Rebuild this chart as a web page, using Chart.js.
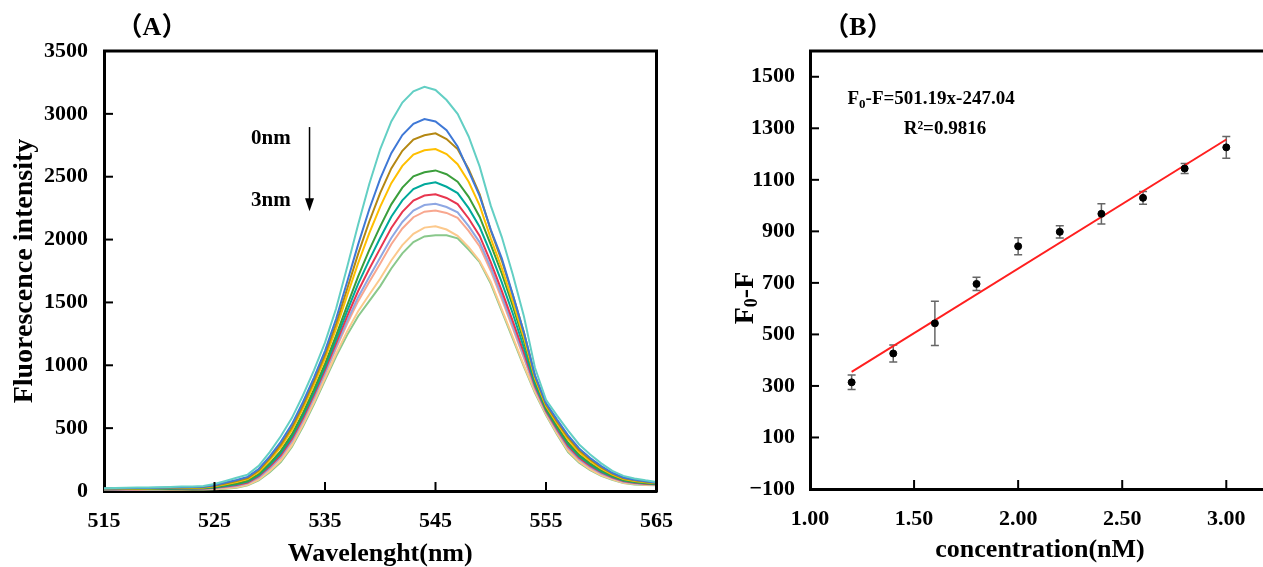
<!DOCTYPE html>
<html><head><meta charset="utf-8">
<script src="https://cdn.jsdelivr.net/npm/chart.js@4.4.0/dist/chart.umd.min.js"></script>
<style>
html,body{margin:0;padding:0;background:#fff;overflow:hidden;width:1263px;height:567px;position:relative;}
#a{position:absolute;left:0;top:0;}
#b{position:absolute;left:700px;top:0;}
</style></head><body>
<canvas id="a" width="690" height="567"></canvas>
<canvas id="b" width="575" height="567"></canvas>
<script>
// ---------- Panel A data ----------
const wavelengths = [515,516,517,518,519,520,521,522,523,524,525,526,527,528,529,530,531,532,533,534,535,536,537,538,539,540,541,542,543,544,545,546,547,548,549,550,551,552,553,554,555,556,557,558,559,560,561,562,563,564,565];
const turquoise = [22,24,25,27,28,30,32,35,36,40, 55,80,105,130,200,310,435,580,760,960, 1180,1450,1780,2120,2440,2720,2940,3090,3180,3215, 3190,3110,3000,2820,2580,2270,2020,1720,1390,980, 726,600,480,370,290,220,160,120,100,85,72];
const blue = [19,20,21,23,24,26,27,30,31,34, 46,67,88,112,175,275,391,530,706,902, 1115,1368,1663,1962,2239,2485,2687,2831,2921,2958, 2940,2870,2740,2545,2345,2080,1850,1560,1260,920, 700,568,443,339,263,198,145,108,90,77,66];
const brown = [18,19,20,21,22,24,25,27,28,31, 42,60,79,103,163,259,369,506,680,874, 1084,1328,1607,1886,2142,2371,2566,2706,2796,2830, 2845,2800,2720,2560,2360,2072,1831,1557,1262,916, 687,552,426,324,250,188,138,102,85,73,64];
const gold = [16,17,18,19,20,22,23,25,26,28, 38,54,71,94,152,243,349,483,655,847, 1054,1290,1553,1813,2049,2262,2449,2586,2676,2710, 2720,2680,2600,2460,2270,2010,1772,1506,1222,896, 675,537,409,309,238,178,131,96,80,70,61];
const green = [14,15,16,17,18,19,20,21,22,24, 32,45,60,82,135,220,319,450,619,808, 1011,1236,1475,1708,1916,2105,2280,2413,2503,2535, 2550,2520,2460,2340,2180,1960,1730,1470,1190,880, 658,515,384,288,220,164,121,88,73,64,57];
const teal = [13,14,15,15,16,17,18,19,20,22, 28,40,53,75,126,206,302,431,598,785, 986,1204,1430,1647,1837,2014,2182,2312,2402,2440, 2455,2420,2370,2250,2100,1890,1660,1410,1140,850, 648,503,370,276,209,155,115,83,69,61,55];
const red = [12,12,13,14,15,16,17,18,19,20, 25,35,47,68,117,194,286,413,579,764, 963,1175,1389,1591,1766,1930,2092,2220,2310,2350, 2360,2331,2282,2168,2029,1821,1592,1350,1100,835, 638,491,357,265,199,148,109,79,65,58,53];
const periwinkle = [11,11,12,13,14,14,15,16,17,18, 23,31,42,63,109,183,273,398,562,746, 942,1149,1352,1542,1703,1857,2013,2140,2230,2275, 2285,2259,2216,2107,1978,1779,1553,1316,1073,822, 630,481,345,255,191,141,105,75,62,56,51];
const salmon = [10,11,12,12,13,13,14,15,16,17, 21,28,38,59,104,176,264,388,551,735, 930,1133,1329,1510,1663,1810,1963,2088,2178,2222, 2232,2212,2173,2069,1945,1752,1527,1294,1056,813, 625,475,338,249,186,137,102,72,60,54,50];
const lightOrange = [9,9,10,10,11,11,12,12,13,14, 16,21,29,50,91,159,241,363,524,705, 897,1091,1270,1430,1561,1690,1834,1956,2046,2095, 2105,2080,2030,1940,1830,1665,1445,1225,1000,791, 612,458,319,233,172,125,94,66,55,50,47];
const lightGreen = [8,8,9,9,10,10,11,11,12,12, 14,18,25,45,85,150,230,350,510,690, 880,1070,1240,1390,1510,1630,1770,1890,1980,2025, 2035,2035,2010,1920,1820,1650,1430,1210,990,780, 605,450,310,225,165,120,90,63,52,48,46];
const xTicksA = [515,525,535,545,555,565];
const yTicksA = [0,500,1000,1500,2000,2500,3000,3500];

// ---------- Panel B data ----------
const concentration = [1.2,1.4,1.6,1.8,2.0,2.2,2.4,2.6,2.8,3.0];
const f0MinusF = [314,426,543,696,842,898,968,1030,1144,1226];
const errorBars = [28,33,86,26,33,24,39,25,19,42];
const fitX = [1.2,3.0];
const fitY = [354.4,1256.5];
const xTicksB = [1.0,1.5,2.0,2.5,3.0];
const yTicksB = [-100,100,300,500,700,900,1100,1300,1500];

// ---------- styles ----------
const SERIF = "'Liberation Serif','Times New Roman','Noto Sans CJK SC',serif";
const bold = sz => `bold ${sz}px ${SERIF}`;
const seriesA = [
  {v: turquoise, c: '#63cfc4'},
  {v: blue, c: '#3f78d6'},
  {v: brown, c: '#b48712'},
  {v: gold, c: '#ffbf00'},
  {v: green, c: '#3b9e3b'},
  {v: teal, c: '#00a99b'},
  {v: red, c: '#e8364f'},
  {v: periwinkle, c: '#8ea7e3'},
  {v: salmon, c: '#f8a78f'},
  {v: lightOrange, c: '#fcc98c'},
  {v: lightGreen, c: '#89c88b'}
];

const frameTicks = {
  id: 'frameTicks',
  afterDraw(chart) {
    const {ctx, chartArea: a} = chart;
    const x = chart.scales.x, y = chart.scales.y;
    ctx.save();
    ctx.strokeStyle = '#000';
    ctx.lineWidth = 3;
    ctx.beginPath();
    ctx.moveTo(a.left - 1, a.top);
    ctx.lineTo(a.right, a.top);
    ctx.lineTo(a.right, a.bottom + 1.5);
    ctx.stroke();
    ctx.lineWidth = 2;
    x.ticks.forEach(t => {
      const px = x.getPixelForValue(t.value);
      if (px > a.left + 3 && px < a.right - 3) {
        ctx.beginPath(); ctx.moveTo(px, a.bottom); ctx.lineTo(px, a.bottom - 9); ctx.stroke();
      }
    });
    y.ticks.forEach(t => {
      const py = y.getPixelForValue(t.value);
      if (py > a.top + 3 && py < a.bottom - 3) {
        ctx.beginPath(); ctx.moveTo(a.left, py); ctx.lineTo(a.left + 9, py); ctx.stroke();
      }
    });
    ctx.restore();
  }
};

const annotA = {
  id: 'annotA',
  afterDraw(chart) {
    const {ctx} = chart;
    const x = chart.scales.x, y = chart.scales.y;
    ctx.save();
    ctx.fillStyle = '#000';
    ctx.font = bold(26);
    ctx.textAlign = 'center'; ctx.textBaseline = 'middle';
    ctx.fillText('（A）', 152, 28);
    ctx.font = bold(21);
    ctx.textAlign = 'left';
    ctx.fillText('0nm', x.getPixelForValue(528.3), y.getPixelForValue(2805));
    ctx.fillText('3nm', x.getPixelForValue(528.3), y.getPixelForValue(2312));
    const ax = x.getPixelForValue(533.6);
    const ay1 = y.getPixelForValue(2895), ay2 = y.getPixelForValue(2225);
    ctx.strokeStyle = '#000'; ctx.lineWidth = 1.5;
    ctx.beginPath(); ctx.moveTo(ax, ay1); ctx.lineTo(ax, ay2 - 10); ctx.stroke();
    ctx.beginPath(); ctx.moveTo(ax - 4.5, ay2 - 13); ctx.lineTo(ax + 4.5, ay2 - 13); ctx.lineTo(ax, ay2); ctx.closePath(); ctx.fill();
    ctx.restore();
  }
};

const errBarsB = {
  id: 'errBarsB',
  beforeDatasetsDraw(chart) {
    const {ctx} = chart;
    const x = chart.scales.x, y = chart.scales.y;
    ctx.save();
    ctx.strokeStyle = '#666'; ctx.lineWidth = 1.5;
    concentration.forEach((c, i) => {
      const px = x.getPixelForValue(c);
      const top = y.getPixelForValue(f0MinusF[i] + errorBars[i]);
      const bot = y.getPixelForValue(f0MinusF[i] - errorBars[i]);
      ctx.beginPath();
      ctx.moveTo(px, top); ctx.lineTo(px, bot);
      ctx.moveTo(px - 4, top); ctx.lineTo(px + 4, top);
      ctx.moveTo(px - 4, bot); ctx.lineTo(px + 4, bot);
      ctx.stroke();
    });
    ctx.restore();
  }
};

const annotB = {
  id: 'annotB',
  afterDraw(chart) {
    const {ctx} = chart;
    const x = chart.scales.x, y = chart.scales.y;
    ctx.save();
    ctx.fillStyle = '#000';
    ctx.font = bold(26);
    ctx.textAlign = 'center';
    ctx.textBaseline = 'middle';
    ctx.fillText('（B）', 158, 28);
    ctx.textBaseline = 'alphabetic';
    ctx.textAlign = 'left';
    // equation
    let ex = x.getPixelForValue(1.18), ey = y.getPixelForValue(1421) + 7;
    ctx.font = bold(19);
    ctx.fillText('F', ex, ey); ex += ctx.measureText('F').width;
    ctx.font = bold(13);
    ctx.fillText('0', ex, ey + 4); ex += ctx.measureText('0').width;
    ctx.font = bold(19);
    ctx.fillText('-F=501.19x-247.04', ex, ey);
    ctx.fillText('R²=0.9816', x.getPixelForValue(1.45), y.getPixelForValue(1305) + 7);
    // y-axis title F0-F (rotated)
    ctx.translate(46, 298);
    ctx.rotate(-Math.PI / 2);
    ctx.font = bold(28);
    const w1 = ctx.measureText('F').width;
    ctx.font = bold(18);
    const w2 = ctx.measureText('0').width;
    ctx.font = bold(28);
    const w3 = ctx.measureText('-F').width;
    let tx = -(w1 + w2 + w3) / 2;
    ctx.textBaseline = 'middle';
    ctx.fillText('F', tx, 0); tx += w1;
    ctx.font = bold(18);
    ctx.fillText('0', tx, 6); tx += w2;
    ctx.font = bold(28);
    ctx.fillText('-F', tx, 0);
    ctx.restore();
  }
};

const tickFont = {family: SERIF, size: 22, weight: 'bold'};
const titleFont = {family: SERIF, size: 26, weight: 'bold', lineHeight: 1};
const yTitleFont = {family: SERIF, size: 28, weight: 'bold', lineHeight: 1};

new Chart(document.getElementById('a'), {
  type: 'line',
  data: {
    datasets: seriesA.map(s => ({
      data: wavelengths.map((w, i) => ({x: w, y: s.v[i]})),
      borderColor: s.c, borderWidth: 2, pointRadius: 0, fill: false, tension: 0
    }))
  },
  options: {
    responsive: false, animation: false, devicePixelRatio: 1,
    layout: {padding: {top: 51, right: 31, left: 0, bottom: 0}},
    plugins: {legend: {display: false}, tooltip: {enabled: false}},
    scales: {
      x: {
        type: 'linear', min: 515, max: 565,
        afterBuildTicks: s => { s.ticks = xTicksA.map(v => ({value: v})); },
        afterFit: s => { s.height = 76; },
        grid: {display: false, drawTicks: false},
        border: {display: true, color: '#000', width: 3},
        ticks: {font: tickFont, color: '#000', padding: 17, maxRotation: 0, autoSkip: false, callback: v => String(v)},
        title: {display: true, text: 'Wavelenght(nm)', font: titleFont, color: '#000', padding: {top: 0, bottom: 0}}
      },
      y: {
        type: 'linear', min: 0, max: 3500,
        afterBuildTicks: s => { s.ticks = yTicksA.map(v => ({value: v})); },
        afterFit: s => { s.width = 104; },
        grid: {display: false, drawTicks: false},
        border: {display: true, color: '#000', width: 3},
        ticks: {font: tickFont, color: '#000', padding: 16, autoSkip: false, callback: v => String(v)},
        title: {display: true, text: 'Fluorescence intensity', font: yTitleFont, color: '#000', padding: {top: 11, bottom: 0}}
      }
    }
  },
  plugins: [frameTicks, annotA]
});

new Chart(document.getElementById('b'), {
  type: 'scatter',
  data: {
    datasets: [
      {type: 'line', data: fitX.map((v, i) => ({x: v, y: fitY[i]})), borderColor: '#ff1f1f', borderWidth: 2, pointRadius: 0, fill: false, order: 2},
      {data: concentration.map((v, i) => ({x: v, y: f0MinusF[i]})), backgroundColor: '#000', borderColor: '#000', pointRadius: 3.5, order: 1}
    ]
  },
  options: {
    responsive: false, animation: false, devicePixelRatio: 1,
    layout: {padding: {top: 51, right: 0, left: 0, bottom: 0}},
    plugins: {legend: {display: false}, tooltip: {enabled: false}},
    scales: {
      x: {
        type: 'linear', min: 1.0, max: 3.21,
        afterBuildTicks: s => { s.ticks = xTicksB.map(v => ({value: v})); },
        afterFit: s => { s.height = 78; },
        grid: {display: false, drawTicks: false},
        border: {display: true, color: '#000', width: 3},
        ticks: {font: tickFont, color: '#000', padding: 17, maxRotation: 0, autoSkip: false, callback: v => Number(v).toFixed(2)},
        title: {display: true, text: 'concentration(nM)', font: titleFont, color: '#000', padding: {top: 0, bottom: 4}}
      },
      y: {
        type: 'linear', min: -100, max: 1600,
        afterBuildTicks: s => { s.ticks = yTicksB.map(v => ({value: v})); },
        afterFit: s => { s.width = 110; },
        grid: {display: false, drawTicks: false},
        border: {display: true, color: '#000', width: 3},
        ticks: {font: tickFont, color: '#000', padding: 15, autoSkip: false, callback: v => (v < 0 ? '\u2212' + Math.abs(v) : String(v))},
        title: {display: false}
      }
    }
  },
  plugins: [frameTicks, errBarsB, annotB]
});
</script>
</body></html>
